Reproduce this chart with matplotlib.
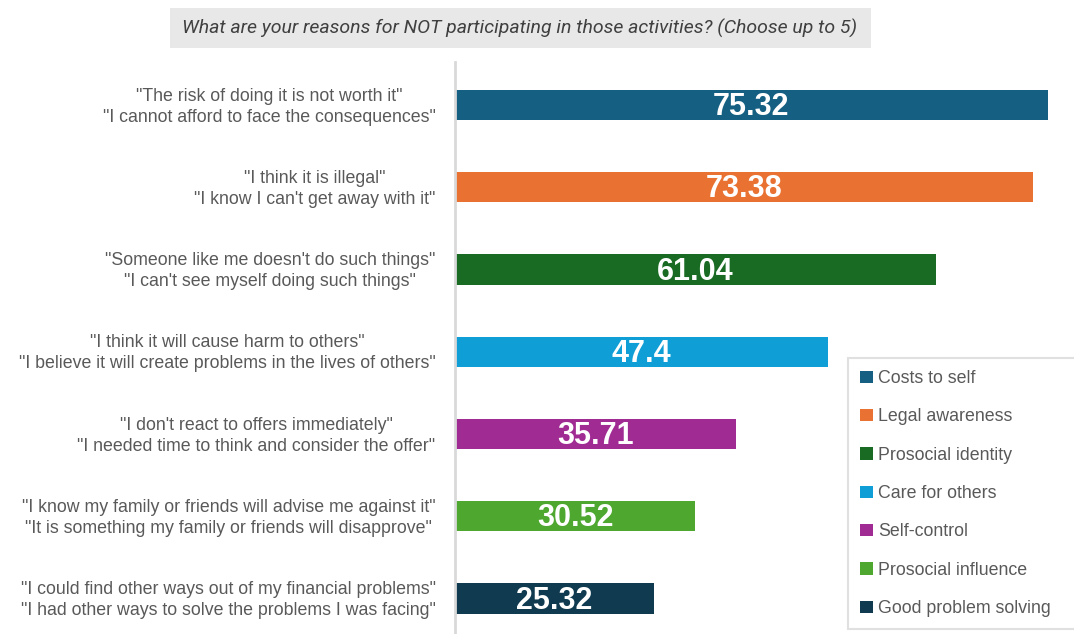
import matplotlib.pyplot as plt
from matplotlib.patches import Rectangle, Patch

reasons = [
    '"The risk of doing it is not worth it"\n"I cannot afford to face the consequences"',
    '"I think it is illegal"\n"I know I can\'t get away with it"',
    '"Someone like me doesn\'t do such things"\n"I can\'t see myself doing such things"',
    '"I think it will cause harm to others"\n"I believe it will create problems in the lives of others"',
    '"I don\'t react to offers immediately"\n"I needed time to think and consider the offer"',
    '"I know my family or friends will advise me against it"\n"It is something my family or friends will disapprove"',
    '"I could find other ways out of my financial problems"\n"I had other ways to solve the problems I was facing"',
]
categories = ["Costs to self", "Legal awareness", "Prosocial identity", "Care for others",
              "Self-control", "Prosocial influence", "Good problem solving"]
values = [75.32, 73.38, 61.04, 47.4, 35.71, 30.52, 25.32]
colors = ["#156082", "#E97132", "#196B24", "#0F9ED5", "#A02B93", "#4EA72E", "#0F3A50"]

W, H = 1074, 634
fig = plt.figure(figsize=(W / 100, H / 100), dpi=100)
ax = fig.add_axes([455 / W, 0, 619 / W, (H - 62) / H])

ypos = list(range(len(values)))
ax.barh(ypos, values, height=0.365, color=colors)
ax.set_xlim(0, 619 / 7.873)
ax.set_ylim(6 + 35.5 / 82.25, -43 / 82.25)

for y, v in zip(ypos, values):
    ax.text(v / 2, y + 0.025, f"{v:g}", ha="center", va="center", color="white",
            fontsize=22, fontweight="bold", family="Liberation Sans")

ax.set_yticks([y - 0.03 for y in ypos])
ax.set_yticklabels(reasons, fontsize=12.8, color="#595959", family="Liberation Sans")
for lbl in ax.get_yticklabels():
    lbl.set_multialignment("center")
    lbl.set_linespacing(1.32)
ax.tick_params(axis="y", length=0, pad=14)
ax.set_xticks([])
for side in ["top", "right", "bottom"]:
    ax.spines[side].set_visible(False)
ax.spines["left"].set_color("#d9d9d9")
ax.spines["left"].set_linewidth(2)

# question banner
fig.patches.append(Rectangle((170 / W, 1 - 48 / H), 701 / W, 40 / H,
                             transform=fig.transFigure, facecolor="#E8E8E8",
                             edgecolor="none"))
fig.text(520 / W, 1 - 28 / H,
         "What are your reasons for NOT participating in those activities? (Choose up to 5)",
         ha="center", va="center", fontsize=14, style="italic", color="#404040",
         family="Roboto")

handles = [Patch(facecolor=c) for c in colors]
leg = fig.legend(handles, categories, loc="upper left",
                 bbox_to_anchor=(848 / W, 6 / H, 240 / W, 270 / H), mode="expand",
                 borderaxespad=0, fancybox=False, edgecolor="#d9d9d9",
                 labelcolor="#595959", handlelength=0.7,
                 handleheight=0.7, handletextpad=0.3, labelspacing=1.2,
                 borderpad=0.68, prop={"family": "Liberation Sans", "size": 12.8})
leg.get_frame().set_linewidth(1.5)

fig.savefig("out.png", dpi=100)
